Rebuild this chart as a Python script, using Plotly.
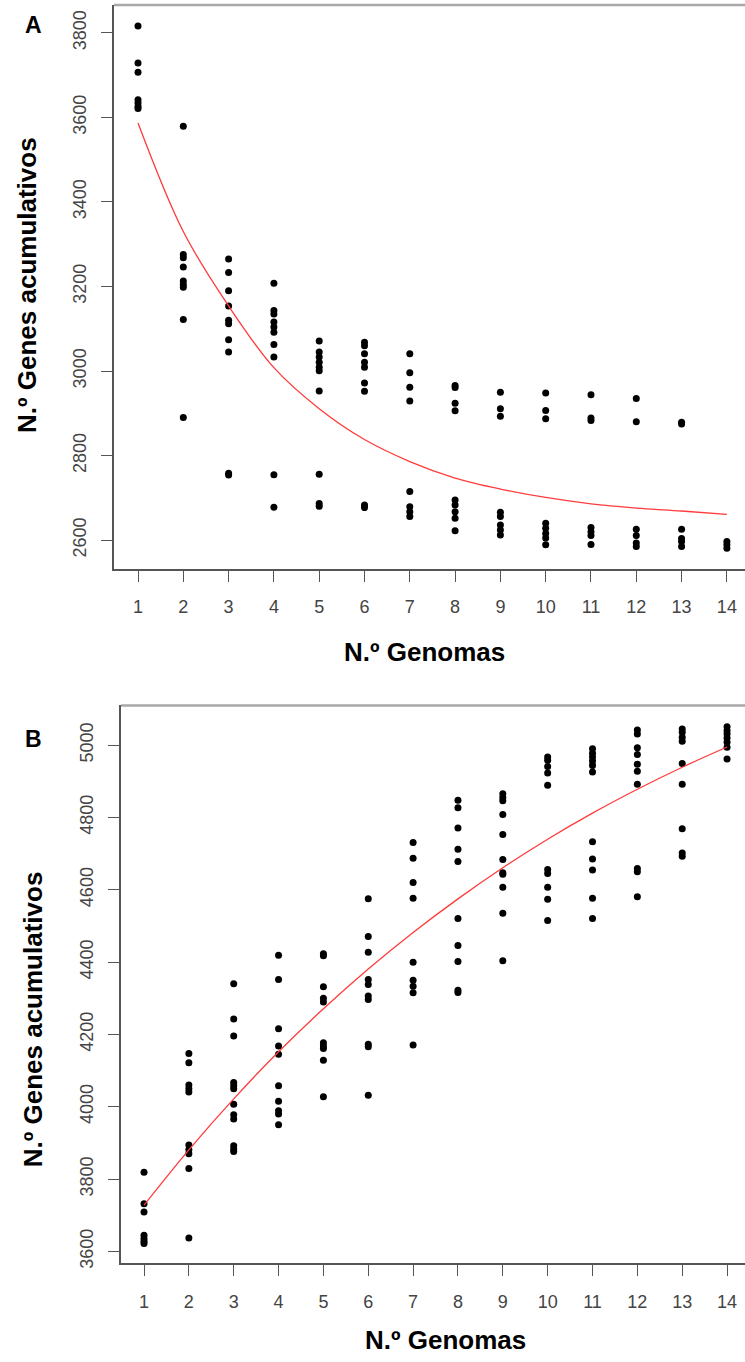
import plotly.graph_objects as go

genomes = list(range(1, 15))
tick_labels = [str(g) for g in genomes]

# Panel A: accumulated core genes per number of genomes
a_vals = [
    [3816, 3729, 3707, 3642, 3634, 3626, 3621],
    [3579, 3276, 3268, 3246, 3213, 3205, 3198, 3122, 2890],
    [3265, 3233, 3190, 3154, 3120, 3112, 3074, 3045, 2758, 2754],
    [3208, 3143, 3135, 3116, 3104, 3092, 3063, 3033, 2755, 2678],
    [3071, 3045, 3033, 3021, 3009, 3001, 2953, 2756, 2687, 2680],
    [3068, 3060, 3041, 3021, 3009, 2972, 2952, 2683, 2677],
    [3041, 2996, 2962, 2929, 2715, 2679, 2667, 2656],
    [2966, 2961, 2924, 2906, 2695, 2683, 2667, 2652, 2622],
    [2950, 2911, 2893, 2666, 2656, 2636, 2624, 2612],
    [2948, 2907, 2887, 2640, 2628, 2616, 2605, 2589],
    [2944, 2889, 2883, 2630, 2620, 2611, 2590],
    [2935, 2880, 2626, 2611, 2593, 2585],
    [2879, 2875, 2626, 2604, 2597, 2585],
    [2597, 2589, 2581],
]
curve_a = [3587, 3330, 3154, 3008, 2911, 2838, 2786, 2747, 2721, 2701, 2686, 2676, 2669, 2661]

# Panel B: accumulated pan genes per number of genomes
b_vals = [
    [3819, 3732, 3709, 3645, 3636, 3628, 3622],
    [4147, 4122, 4060, 4050, 4041, 3894, 3881, 3870, 3829, 3637],
    [4340, 4243, 4196, 4067, 4058, 4050, 4007, 3978, 3966, 3892, 3883, 3876],
    [4419, 4352, 4216, 4168, 4145, 4058, 4015, 3989, 3980, 3950],
    [4423, 4418, 4332, 4300, 4290, 4177, 4168, 4161, 4129, 4028],
    [4575, 4471, 4427, 4352, 4338, 4306, 4297, 4173, 4166, 4032],
    [4731, 4687, 4620, 4577, 4400, 4350, 4333, 4315, 4171],
    [4848, 4827, 4771, 4712, 4678, 4521, 4446, 4402, 4322, 4316],
    [4866, 4855, 4846, 4808, 4753, 4684, 4647, 4643, 4607, 4535, 4404],
    [4967, 4958, 4941, 4923, 4889, 4656, 4645, 4607, 4574, 4515],
    [4990, 4978, 4967, 4956, 4944, 4926, 4733, 4685, 4655, 4577, 4521],
    [5042, 5031, 4993, 4974, 4947, 4928, 4892, 4659, 4650, 4581],
    [5045, 5036, 5022, 5011, 4949, 4892, 4769, 4702, 4693],
    [5051, 5040, 5031, 5020, 5008, 4994, 4962],
]
curve_b = [3728, 3881, 4022, 4152, 4271, 4381, 4482, 4575, 4661, 4740, 4812, 4878, 4939, 4995]

yticks_a = [2600, 2800, 3000, 3200, 3400, 3600, 3800]
yticks_b = [3600, 3800, 4000, 4200, 4400, 4600, 4800, 5000]

x_title = "N.º Genomas"
y_title = "N.º Genes acumulativos"


def flatten(groups):
    xs, ys = [], []
    for g, vals in zip(genomes, groups):
        for v in vals:
            xs.append(g)
            ys.append(v)
    return xs, ys


W, H = 745, 1362
FONT = "Liberation Sans, Arial, sans-serif"

fig = go.Figure()

ax, ay = flatten(a_vals)
bx, by = flatten(b_vals)

fig.add_trace(go.Scatter(x=ax, y=ay, mode="markers", xaxis="x", yaxis="y",
                         marker=dict(color="black", size=7), showlegend=False))
fig.add_trace(go.Scatter(x=genomes, y=curve_a, mode="lines", xaxis="x", yaxis="y",
                         line=dict(color="#ff3b3b", width=1.3, shape="spline", smoothing=1),
                         showlegend=False))
fig.add_trace(go.Scatter(x=bx, y=by, mode="markers", xaxis="x2", yaxis="y2",
                         marker=dict(color="black", size=7), showlegend=False))
fig.add_trace(go.Scatter(x=genomes, y=curve_b, mode="lines", xaxis="x2", yaxis="y2",
                         line=dict(color="#ff3b3b", width=1.3, shape="spline", smoothing=1),
                         showlegend=False))

# pixel geometry (from top-left)
A_top, A_bot, A_left = 5, 571, 114
B_top, B_bot, B_left = 708, 1268, 121


def py(p):
    return 1 - p / H


def px(p):
    return p / W


tickfont = dict(family=FONT, size=18, color="#444444")
common_x = dict(tickmode="array", tickvals=genomes, ticktext=tick_labels,
                ticks="outside", ticklen=11, tickcolor="#555", tickwidth=1.3,
                showline=True, linecolor="#555", linewidth=1.5, showgrid=False,
                zeroline=False, tickfont=tickfont, ticklabelstandoff=10)
common_y = dict(ticks="outside", ticklen=11, tickcolor="#555", tickwidth=1.3,
                showline=True, linecolor="#555", linewidth=1.5, showgrid=False,
                zeroline=False, tickfont=tickfont, tickangle=-90, ticklabelstandoff=8)

fig.update_layout(
    width=W, height=H,
    margin=dict(l=0, r=0, t=0, b=0),
    paper_bgcolor="white", plot_bgcolor="white",
    xaxis=dict(domain=[px(A_left), 1], range=[0.47, 14.4], anchor="y", **common_x),
    yaxis=dict(domain=[py(A_bot), py(A_top)], range=[2532, 3866], anchor="x",
               tickvals=yticks_a, ticktext=[str(v) for v in yticks_a], tickmode="array", **common_y),
    xaxis2=dict(domain=[px(B_left), 1], range=[0.487, 14.4], anchor="y2", **common_x),
    yaxis2=dict(domain=[py(B_bot), py(B_top)], range=[3567, 5110], anchor="x2",
                tickvals=yticks_b, ticktext=[str(v) for v in yticks_b], tickmode="array", **common_y),
)

# top gray frame lines
for top, left in [(A_top, A_left), (B_top, B_left)]:
    fig.add_shape(type="line", xref="paper", yref="paper",
                  x0=px(left), x1=1, y0=py(top), y1=py(top),
                  line=dict(color="#a8a8a8", width=2.5))

title_font = dict(family=FONT, size=26, color="black")
letter_font = dict(family=FONT, size=23, color="black")

annotations = [
    dict(text="<b>A</b>", x=px(33), y=py(25), font=letter_font),
    dict(text="<b>B</b>", x=px(33), y=py(742), font=letter_font),
    dict(text="<b>%s</b>" % x_title, x=px(424), y=py(654), font=title_font),
    dict(text="<b>%s</b>" % x_title, x=px(445), y=py(1345), font=title_font),
    dict(text="<b>%s</b>" % y_title, x=px(27), y=py(286), font=title_font, textangle=-90),
    dict(text="<b>%s</b>" % y_title, x=px(33), y=py(1023), font=title_font, textangle=-90),
]
for a in annotations:
    fig.add_annotation(xref="paper", yref="paper", showarrow=False,
                       xanchor="center", yanchor="middle", **a)

fig.write_html("out.html")
